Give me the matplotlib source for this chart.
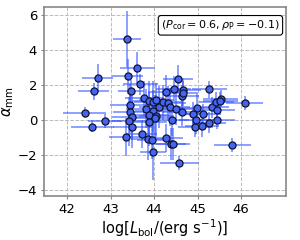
import numpy as np
from matplotlib import pyplot as plt

# log L_bol, alpha_mm and their errors
log_lbol = [43.38, 43.61, 42.70, 43.39, 42.61, 43.68, 43.46, 44.55, 44.45, 44.27,
            44.67, 44.64, 44.67, 45.27, 43.77, 43.89, 43.98, 44.05, 44.11, 44.21,
            44.33, 44.37, 44.50, 44.63, 43.81, 43.97, 43.89, 44.05, 44.02, 43.89,
            43.44, 43.45, 43.48, 43.42, 43.50, 43.36, 43.71, 43.87, 43.96, 43.98,
            44.27, 44.39, 44.43, 44.58, 44.40, 42.40, 42.87, 42.58, 44.98, 44.89,
            44.97, 44.95, 45.10, 45.13, 45.26, 45.33, 45.43, 45.45, 45.45, 45.53,
            45.52, 46.08, 45.80]
alpha_mm = [4.63, 2.98, 2.40, 2.50, 1.63, 2.04, 1.67, 2.31, 1.79, 1.58,
            1.71, 1.38, 1.52, 1.75, 1.23, 1.10, 1.04, 1.13, 0.75, 1.00,
            0.94, 0.73, 0.62, 0.46, 0.65, 0.52, 0.29, 0.23, 0.13, -0.10,
            0.83, 0.48, 0.17, -0.08, -0.42, -0.98, -0.79, -1.10, -1.12, -1.83,
            -1.04, -1.37, -1.37, -2.44, -0.02, 0.42, -0.06, -0.38, 0.69, 0.31,
            0.00, -0.40, -0.35, 0.33, -0.15, 0.71, 1.00, 0.58, 0.00, 1.21,
            1.10, 0.98, -1.42]
x_err = [0.32, 0.40, 0.35, 0.35, 0.35, 0.40, 0.30, 0.35, 0.40, 0.40,
         0.40, 0.40, 0.35, 0.40, 0.45, 0.40, 0.45, 0.40, 0.45, 0.40,
         0.40, 0.45, 0.40, 0.45, 0.45, 0.40, 0.45, 0.40, 0.45, 0.40,
         0.45, 0.40, 0.45, 0.40, 0.45, 0.40, 0.35, 0.40, 0.35, 0.30,
         0.40, 0.35, 0.40, 0.45, 0.40, 0.50, 0.40, 0.50, 0.40, 0.35,
         0.40, 0.40, 0.40, 0.40, 0.40, 0.40, 0.40, 0.40, 0.40, 0.40,
         0.40, 0.42, 0.42]
y_err = [1.60, 0.90, 0.80, 1.00, 0.50, 0.60, 0.60, 0.80, 0.70, 1.00,
         0.60, 0.60, 0.70, 0.50, 1.00, 1.10, 1.20, 1.00, 1.20, 1.00,
         1.00, 1.10, 0.90, 0.80, 1.10, 1.20, 1.30, 1.20, 1.30, 1.40,
         1.20, 1.20, 1.30, 1.40, 1.20, 1.10, 0.80, 1.20, 1.10, 1.60,
         0.80, 0.90, 0.90, 0.40, 0.90, 0.30, 0.40, 0.30, 0.80, 0.70,
         0.80, 0.60, 0.60, 0.60, 0.60, 0.60, 0.60, 0.60, 0.50, 0.50,
         0.50, 0.40, 0.40]

fig = plt.figure(figsize=(3, 2.4), dpi=100)
ax = fig.add_axes([0.147, 0.183, 0.806, 0.788])

ax.errorbar(log_lbol, alpha_mm, xerr=x_err, yerr=y_err, fmt='none',
            ecolor='#3355ff', alpha=0.65, elinewidth=1.2, zorder=2)
ax.scatter(log_lbol, alpha_mm, s=26, color='#4466ee', edgecolors='#111133',
           linewidths=0.9, zorder=3)

ax.set_xlim(41.47, 47.03)
ax.set_ylim(-4.35, 6.45)
ax.set_xticks([42, 43, 44, 45, 46])
ax.set_yticks([-4, -2, 0, 2, 4, 6])
ax.grid(True, ls='--', color='#bbbbbb', lw=0.7)
ax.set_axisbelow(True)
for sp in ax.spines.values():
    sp.set_color('#888888')
    sp.set_linewidth(1.2)
ax.tick_params(colors='#888888', labelcolor='black', labelsize=9.5,
               length=2.5, pad=2.5)

ax.set_xlabel(r'$\log[L_{\rm bol}/({\rm erg\ s^{-1}})]$', fontsize=10.5, labelpad=1)
ax.set_ylabel(r'$\alpha_{\rm mm}$', fontsize=10.5, labelpad=1)

ax.text(0.975, 0.94, r'$(P_{\rm cor}=0.6, \rho_{\rm P}=-0.1)$',
        transform=ax.transAxes, ha='right', va='top', fontsize=8,
        bbox=dict(boxstyle='round,pad=0.25', fc='white', ec='black', lw=0.8))

plt.savefig('out.png', dpi=100)
